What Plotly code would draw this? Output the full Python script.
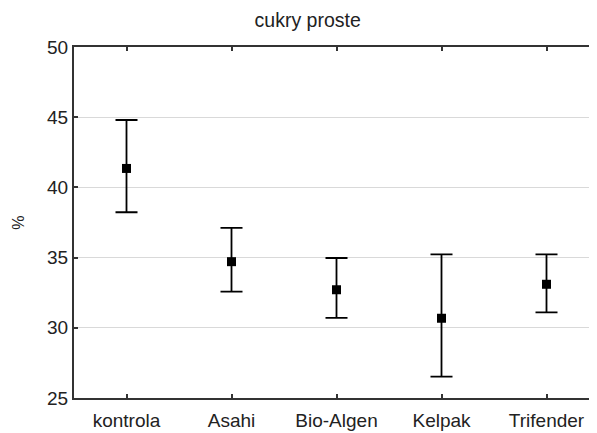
import plotly.graph_objects as go

categories = ["kontrola", "Asahi", "Bio-Algen", "Kelpak", "Trifender"]
means = [41.35, 34.71, 32.71, 30.68, 33.10]
upper = [44.80, 37.12, 34.97, 35.23, 35.23]
lower = [38.23, 32.57, 30.71, 26.52, 31.10]
y_ticks = [25, 30, 35, 40, 45, 50]

err_plus = [u - m for u, m in zip(upper, means)]
err_minus = [m - l for m, l in zip(means, lower)]

FONT = "Liberation Sans, Arial, sans-serif"
x_idx = list(range(len(categories)))

fig = go.Figure()
fig.add_trace(go.Scatter(
    x=x_idx, y=means, mode="markers",
    marker=dict(symbol="square", size=9, color="black"),
    error_y=dict(type="data", symmetric=False, array=err_plus, arrayminus=err_minus,
                 color="black", thickness=1.8, width=11),
    showlegend=False, hoverinfo="skip",
))

fig.update_layout(
    width=597, height=433,
    margin=dict(l=66, r=5.5, t=39, b=43),
    paper_bgcolor="white", plot_bgcolor="white",
    title=dict(text="cukry proste", x=0.502, xanchor="center", y=1 - 12 / 433, yanchor="middle",
               font=dict(family=FONT, size=19.5, color="#222")),
    xaxis=dict(
        range=[-0.5, 4.5], tickmode="array", tickvals=x_idx, ticktext=categories,
        showgrid=False, zeroline=False, showline=True, linecolor="#333", linewidth=2,
        mirror="ticks", ticks="inside", ticklen=4, tickcolor="#333", tickwidth=1.5,
        ticklabelstandoff=4,
        tickfont=dict(family=FONT, size=19, color="#222"),
    ),
    yaxis=dict(
        range=[25, 50], tickmode="array", tickvals=y_ticks,
        showgrid=True, gridcolor="#d9d9d9", gridwidth=1, zeroline=False,
        showline=True, linecolor="#333", linewidth=2, mirror=False,
        ticks="inside", ticklen=4, tickcolor="#333", tickwidth=1.5,
        tickfont=dict(family=FONT, size=19, color="#222"),
        title=dict(text="%", font=dict(family=FONT, size=16, color="#222"), standoff=18),
    ),
    yaxis2=dict(
        range=[25, 50], overlaying="y", side="right", tickmode="array", tickvals=y_ticks,
        showgrid=False, zeroline=False, showline=False, showticklabels=False,
        ticks="inside", ticklen=4, tickcolor="#333", tickwidth=1.5,
    ),
)

fig.write_html("out.html")
